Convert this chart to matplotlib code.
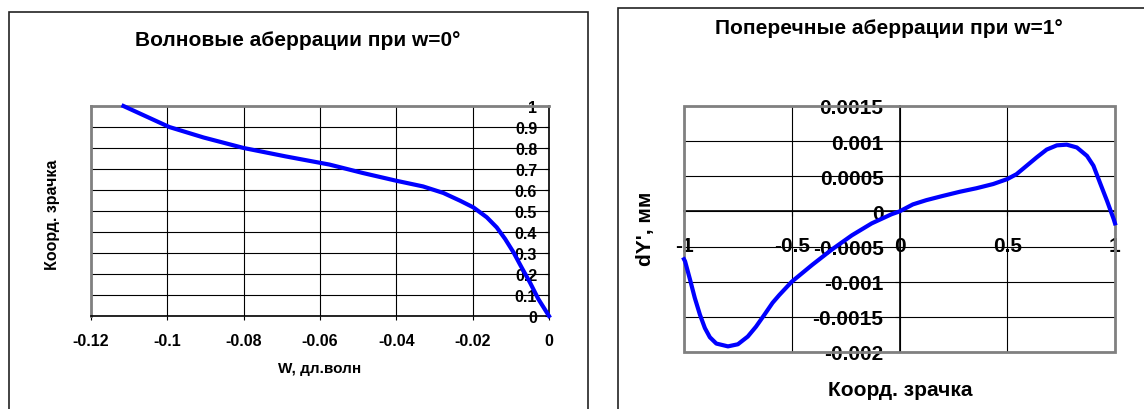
import matplotlib
matplotlib.use('Agg')
import matplotlib.pyplot as plt
from matplotlib.patches import Rectangle

plt.rcParams['font.family'] = ['Liberation Sans', 'DejaVu Sans']
plt.rcParams['font.weight'] = 'bold'

# left chart: wave aberration vs pupil coordinate
left_title = "Волновые аберрации при w=0°"
left_xlabel = "W, дл.волн"
left_ylabel = "Коорд. зрачка"
left_w = [0, -0.0028, -0.0050, -0.0072, -0.0093, -0.0115, -0.0137, -0.0163,
          -0.0198, -0.0233, -0.0277, -0.0330, -0.0400, -0.0488, -0.0575,
          -0.0690, -0.0800, -0.0905, -0.0995, -0.1055, -0.1115]
left_pupil = [0, 0.081, 0.160, 0.232, 0.303, 0.367, 0.422, 0.470,
              0.517, 0.549, 0.586, 0.617, 0.644, 0.681, 0.721,
              0.760, 0.800, 0.850, 0.900, 0.950, 1.0]
left_xticks = [-0.12, -0.1, -0.08, -0.06, -0.04, -0.02, 0]
left_xticklabels = ["-0.12", "-0.1", "-0.08", "-0.06", "-0.04", "-0.02", "0"]
left_yticks = [0, 0.1, 0.2, 0.3, 0.4, 0.5, 0.6, 0.7, 0.8, 0.9, 1]
left_yticklabels = ["0", "0.1", "0.2", "0.3", "0.4", "0.5", "0.6", "0.7", "0.8", "0.9", "1"]

# right chart: transverse aberration vs pupil coordinate
right_title = "Поперечные аберрации при w=1°"
right_xlabel = "Коорд. зрачка"
right_ylabel = "dY', мм"
right_pupil = [-1.0, -0.995, -0.972, -0.95, -0.926, -0.903, -0.88, -0.85, -0.796,
               -0.75, -0.704, -0.666, -0.627, -0.589, -0.558, -0.5, -0.405,
               -0.313, -0.221, -0.129, -0.037, 0, 0.062, 0.124, 0.2, 0.28,
               0.357, 0.435, 0.5, 0.543, 0.59, 0.637, 0.683, 0.73, 0.776,
               0.823, 0.87, 0.9, 0.93, 0.963, 0.994, 1.0]
right_dy = [-0.00068, -0.00071, -0.00097, -0.00123, -0.00147, -0.00166, -0.00179,
            -0.00188, -0.00192, -0.00189, -0.00178, -0.00164, -0.00147, -0.00130,
            -0.00119, -0.00100, -0.00076, -0.00054, -0.00034, -0.00017, -0.00004,
            0, 0.00010, 0.00016, 0.00022, 0.00028, 0.00033, 0.00039, 0.00046,
            0.00053, 0.00065, 0.00077, 0.00088, 0.00094, 0.00095, 0.00091,
            0.00079, 0.00065, 0.00041, 0.00015, -0.00011, -0.00017]
right_xticks = [-1, -0.5, 0, 0.5, 1]
right_xticklabels = ["-1", "-0.5", "0", "0.5", "1"]
right_yticks = [-0.002, -0.0015, -0.001, -0.0005, 0, 0.0005, 0.001, 0.0015]
right_yticklabels = ["-0.002", "-0.0015", "-0.001", "-0.0005", "0", "0.0005", "0.001", "0.0015"]

W, H = 1144, 410
fig = plt.figure(figsize=(W / 100, H / 100), dpi=100)


def px(x0, y0, x1, y1):
    return [x0 / W, 1 - y1 / H, (x1 - x0) / W, (y1 - y0) / H]


# chart frames
fig.add_artist(Rectangle((9 / W, -0.1), (588 - 9) / W, 1.1 - 13 / H,
                         transform=fig.transFigure, fill=False, ec='#222222', lw=1.2))
fig.add_artist(Rectangle((618 / W, -0.1), 0.5, 1.1 - 9 / H,
                         transform=fig.transFigure, fill=False, ec='#222222', lw=1.2))

# ---- left chart
ax1 = fig.add_axes(px(91, 107, 549, 317))
ax1.plot(left_w, left_pupil, color='#0000ff', lw=3, clip_on=False, zorder=5,
         solid_joinstyle='round')
ax1.set_xlim(-0.12, 0)
ax1.set_ylim(0, 1)
ax1.set_xticks(left_xticks)
ax1.set_xticklabels(left_xticklabels)
ax1.set_yticks(left_yticks)
ax1.set_yticklabels(left_yticklabels)
ax1.grid(True, color='black', lw=0.8)
ax1.set_axisbelow(True)
for s in ['top', 'left']:
    ax1.spines[s].set_color('#808080')
    ax1.spines[s].set_linewidth(2)
for s in ['right', 'bottom']:
    ax1.spines[s].set_color('black')
    ax1.spines[s].set_linewidth(1.2)
ax1.yaxis.tick_right()
ax1.tick_params(axis='y', direction='in', length=3, pad=-8.5, labelsize=11.5)
for lbl in ax1.get_yticklabels():
    lbl.set_ha('right')
ax1.tick_params(axis='x', direction='out', length=3, pad=9, labelsize=11.5)

fig.text(298 / W, 1 - 40 / H, left_title, ha='center', va='center', fontsize=15)
fig.text(320 / W, 1 - 369 / H, left_xlabel, ha='center', va='center', fontsize=11)
fig.text(53 / W, 1 - 215 / H, left_ylabel, ha='center', va='center', fontsize=11.5, rotation=90)

# ---- right chart
ax2 = fig.add_axes(px(684, 107, 1115, 353))
ax2.plot(right_pupil, right_dy, color='#0000ff', lw=3, clip_on=False, zorder=5,
         solid_joinstyle='round')
ax2.set_xlim(-1, 1)
ax2.set_ylim(-0.002, 0.0015)
ax2.set_xticks(right_xticks)
ax2.set_xticklabels(right_xticklabels)
ax2.set_yticks(right_yticks)
ax2.set_yticklabels(right_yticklabels)
ax2.grid(True, color='black', lw=0.8)
ax2.set_axisbelow(True)
ax2.spines['left'].set_position(('data', 0))
ax2.spines['bottom'].set_position(('data', 0))
ax2.spines['top'].set_visible(False)
ax2.spines['right'].set_visible(False)
for s in ['left', 'bottom']:
    ax2.spines[s].set_color('black')
    ax2.spines[s].set_linewidth(1.2)
ax2.add_patch(Rectangle((0, 0), 1, 1, transform=ax2.transAxes, fill=False,
                        ec='#808080', lw=2, clip_on=False, zorder=3))
ax2.tick_params(axis='y', direction='out', length=3.5, pad=8, labelsize=15)
ax2.tick_params(axis='x', direction='out', length=3.5, pad=14, labelsize=15)

fig.text(889 / W, 1 - 28 / H, right_title, ha='center', va='center', fontsize=15)
fig.text(900 / W, 1 - 391 / H, right_xlabel, ha='center', va='center', fontsize=15)
fig.text(645 / W, 1 - 229 / H, right_ylabel, ha='center', va='center', fontsize=15, rotation=90)

fig.savefig('out.png', dpi=100)
